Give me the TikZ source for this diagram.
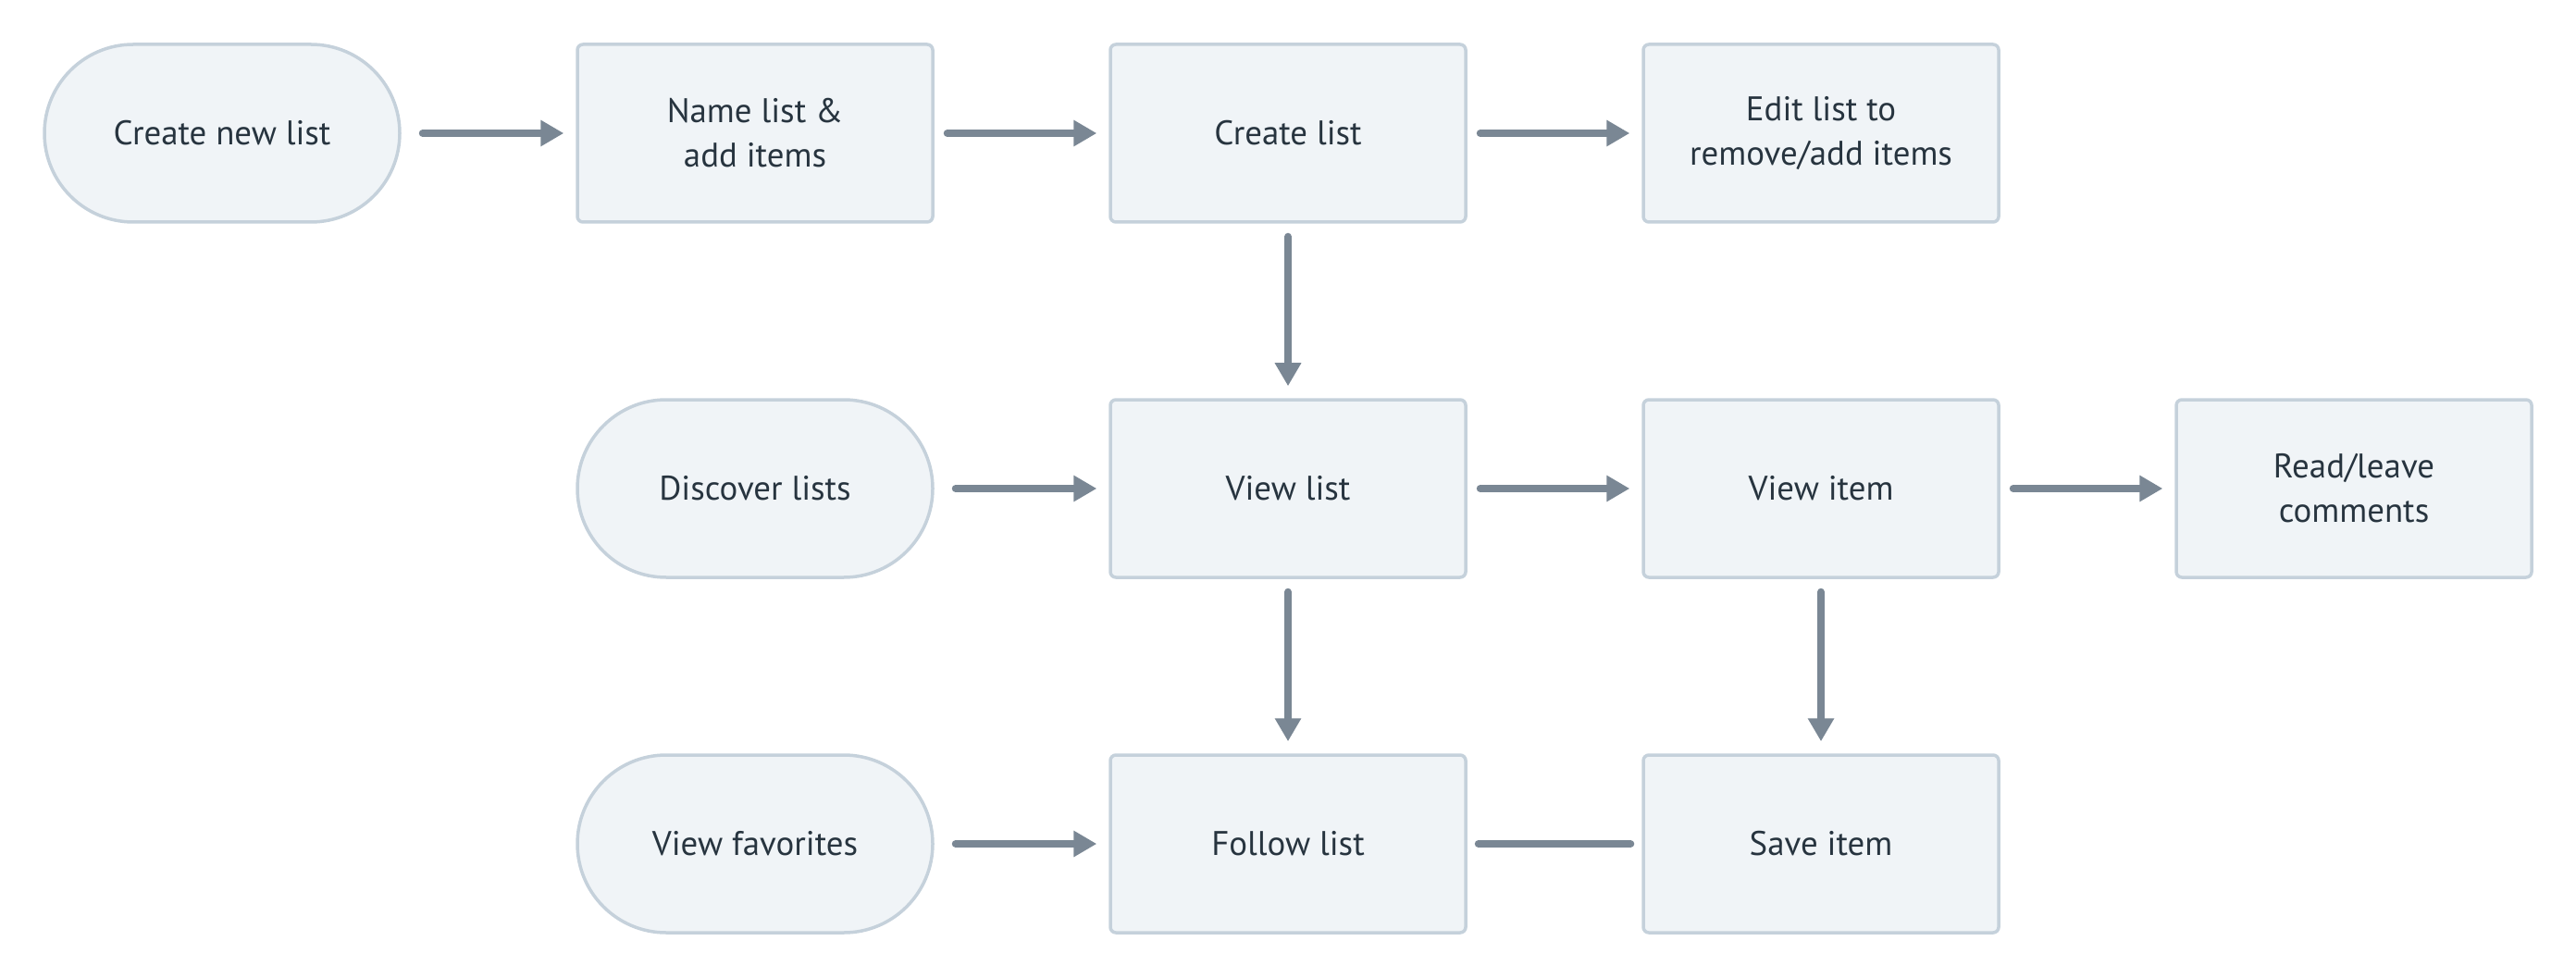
\documentclass[tikz,border=0pt]{standalone}
\usepackage{fontspec}
\setmainfont{PT Sans}
\usepackage{xcolor}
\usepackage{tikz}
\usetikzlibrary{arrows.meta,positioning}

\definecolor{boxfill}{HTML}{F0F4F7}
\definecolor{boxline}{HTML}{C5D1DB}
\definecolor{flowline}{HTML}{7A8794}
\definecolor{boxtext}{HTML}{27343F}

\begin{document}
\begin{tikzpicture}[node distance=1.885cm and 1.885cm,
    box/.style={rectangle,draw=boxline,fill=boxfill,line width=0.035cm,rounded corners=0.06cm,minimum width=3.84cm,minimum height=1.92cm,align=center,text=boxtext,font=\fontsize{10.5}{13.7}\selectfont},
    term/.style={box,rounded corners=0.96cm},
    flow/.style={draw=flowline,line width=0.08cm,line cap=round,-{Triangle[length=0.25cm,width=0.27cm]},shorten >=0.13cm,shorten <=0.14cm},
    fromterm/.style={flow,shorten <=0.23cm}]
    \useasboundingbox (0,0) rectangle (27.84,10.56);
    % top row
    \node[term] (newlist) at (2.40,9.12) {Create new list};
    \node[box,right=of newlist] (name) {Name list \&\\add items};
    \node[box,right=of name] (create) {Create list};
    \node[box,right=of create] (edit) {Edit list to\\remove/add items};
    % middle row
    \node[term,below=of name] (discover) {Discover lists};
    \node[box,below=of create] (viewlist) {View list};
    \node[box,right=of viewlist] (viewitem) {View item};
    \node[box,right=of viewitem] (comments) {Read/leave\\comments};
    % bottom row
    \node[term,below=of discover] (favs) {View favorites};
    \node[box,below=of viewlist] (follow) {Follow list};
    \node[box,right=of follow] (save) {Save item};

    \draw[fromterm] (newlist) -- (name);
    \draw[flow] (name) -- (create);
    \draw[flow] (create) -- (edit);
    \draw[flow] (create) -- (viewlist);
    \draw[fromterm] (discover) -- (viewlist);
    \draw[flow] (viewlist) -- (viewitem);
    \draw[flow] (viewitem) -- (comments);
    \draw[flow] (viewlist) -- (follow);
    \draw[flow] (viewitem) -- (save);
    \draw[fromterm] (favs) -- (follow);
    \draw[flow,-,shorten >=0.12cm,shorten <=0.12cm] (follow) -- (save);
\end{tikzpicture}
\end{document}
